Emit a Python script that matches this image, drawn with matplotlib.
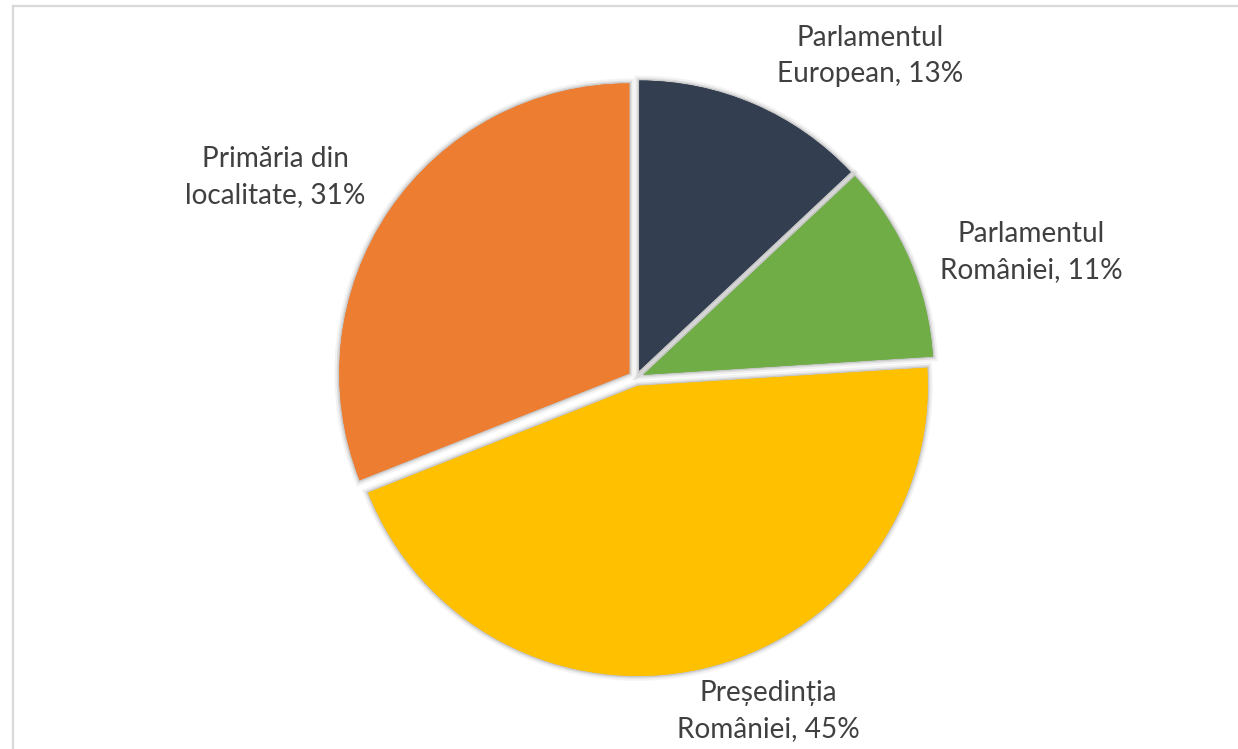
import matplotlib
matplotlib.use("Agg")
import matplotlib.pyplot as plt
import matplotlib.patheffects as pe
from matplotlib.lines import Line2D

# ---- data ----
categories = ["Parlamentul European", "Parlamentul României",
              "Președinția României", "Primăria din localitate"]
values = [13, 11, 45, 31]
label_texts = ["Parlamentul\nEuropean, 13%", "Parlamentul\nRomâniei, 11%",
               "Președinția\nRomâniei, 45%", "Primăria din\nlocalitate, 31%"]
colors = ["#333F50", "#70AD47", "#FFC000", "#ED7D31"]

W, H = 1238, 749
fig = plt.figure(figsize=(W / 100, H / 100), dpi=100)
fig.patch.set_facecolor("white")

# axes mapping: pie center at pixel (636, 378), radius 290 px = 1 unit
cx, cy, R = 636, 378, 290
ax = fig.add_axes([0, 0, 1, 1])
wedges, _ = ax.pie(values, colors=colors, startangle=90, counterclock=False,
                   explode=[0.028] * len(values), radius=1,
                   wedgeprops=dict(linewidth=0))
for w in wedges:
    w.set_path_effects([
        pe.Stroke(linewidth=7, foreground="#000000", alpha=0.05),
        pe.Stroke(linewidth=4, foreground="#000000", alpha=0.08),
        pe.Stroke(linewidth=2, foreground="#000000", alpha=0.10),
        pe.Normal(),
    ])
# redraw fills on top so shadows sit only in gaps
ax.pie(values, colors=colors, startangle=90, counterclock=False,
       explode=[0.028] * len(values), radius=1,
       wedgeprops=dict(linewidth=0))
ax.set_xlim(-cx / R, (W - cx) / R)
ax.set_ylim(-(H - cy) / R, cy / R)
ax.set_aspect("auto")
ax.axis("off")

# border (top and left)
fig.add_artist(Line2D([13 / W, 1], [1 - 6 / H, 1 - 6 / H], color="#D9D9D9", lw=1.6))
fig.add_artist(Line2D([13 / W, 13 / W], [0, 1 - 6 / H], color="#D9D9D9", lw=1.6))

# font size fitted so that "Parlamentul" is ~148 px wide
family = ["Lato", "DejaVu Sans"]
renderer = fig.canvas.get_renderer()
t = fig.text(0, 0, "Parlamentul", fontsize=20, family=family)
wpx = t.get_window_extent(renderer).width
t.remove()
fs = 20 * 148 / wpx

label_pos = [(870, 56), (1031, 252), (768, 711), (275, 177)]
for txt, (x, y) in zip(label_texts, label_pos):
    fig.text(x / W, 1 - y / H, txt, ha="center", va="center",
             multialignment="center", fontsize=fs, family=family,
             color="#404040", linespacing=1.45)

fig.savefig("out.png", dpi=100, facecolor="white")
